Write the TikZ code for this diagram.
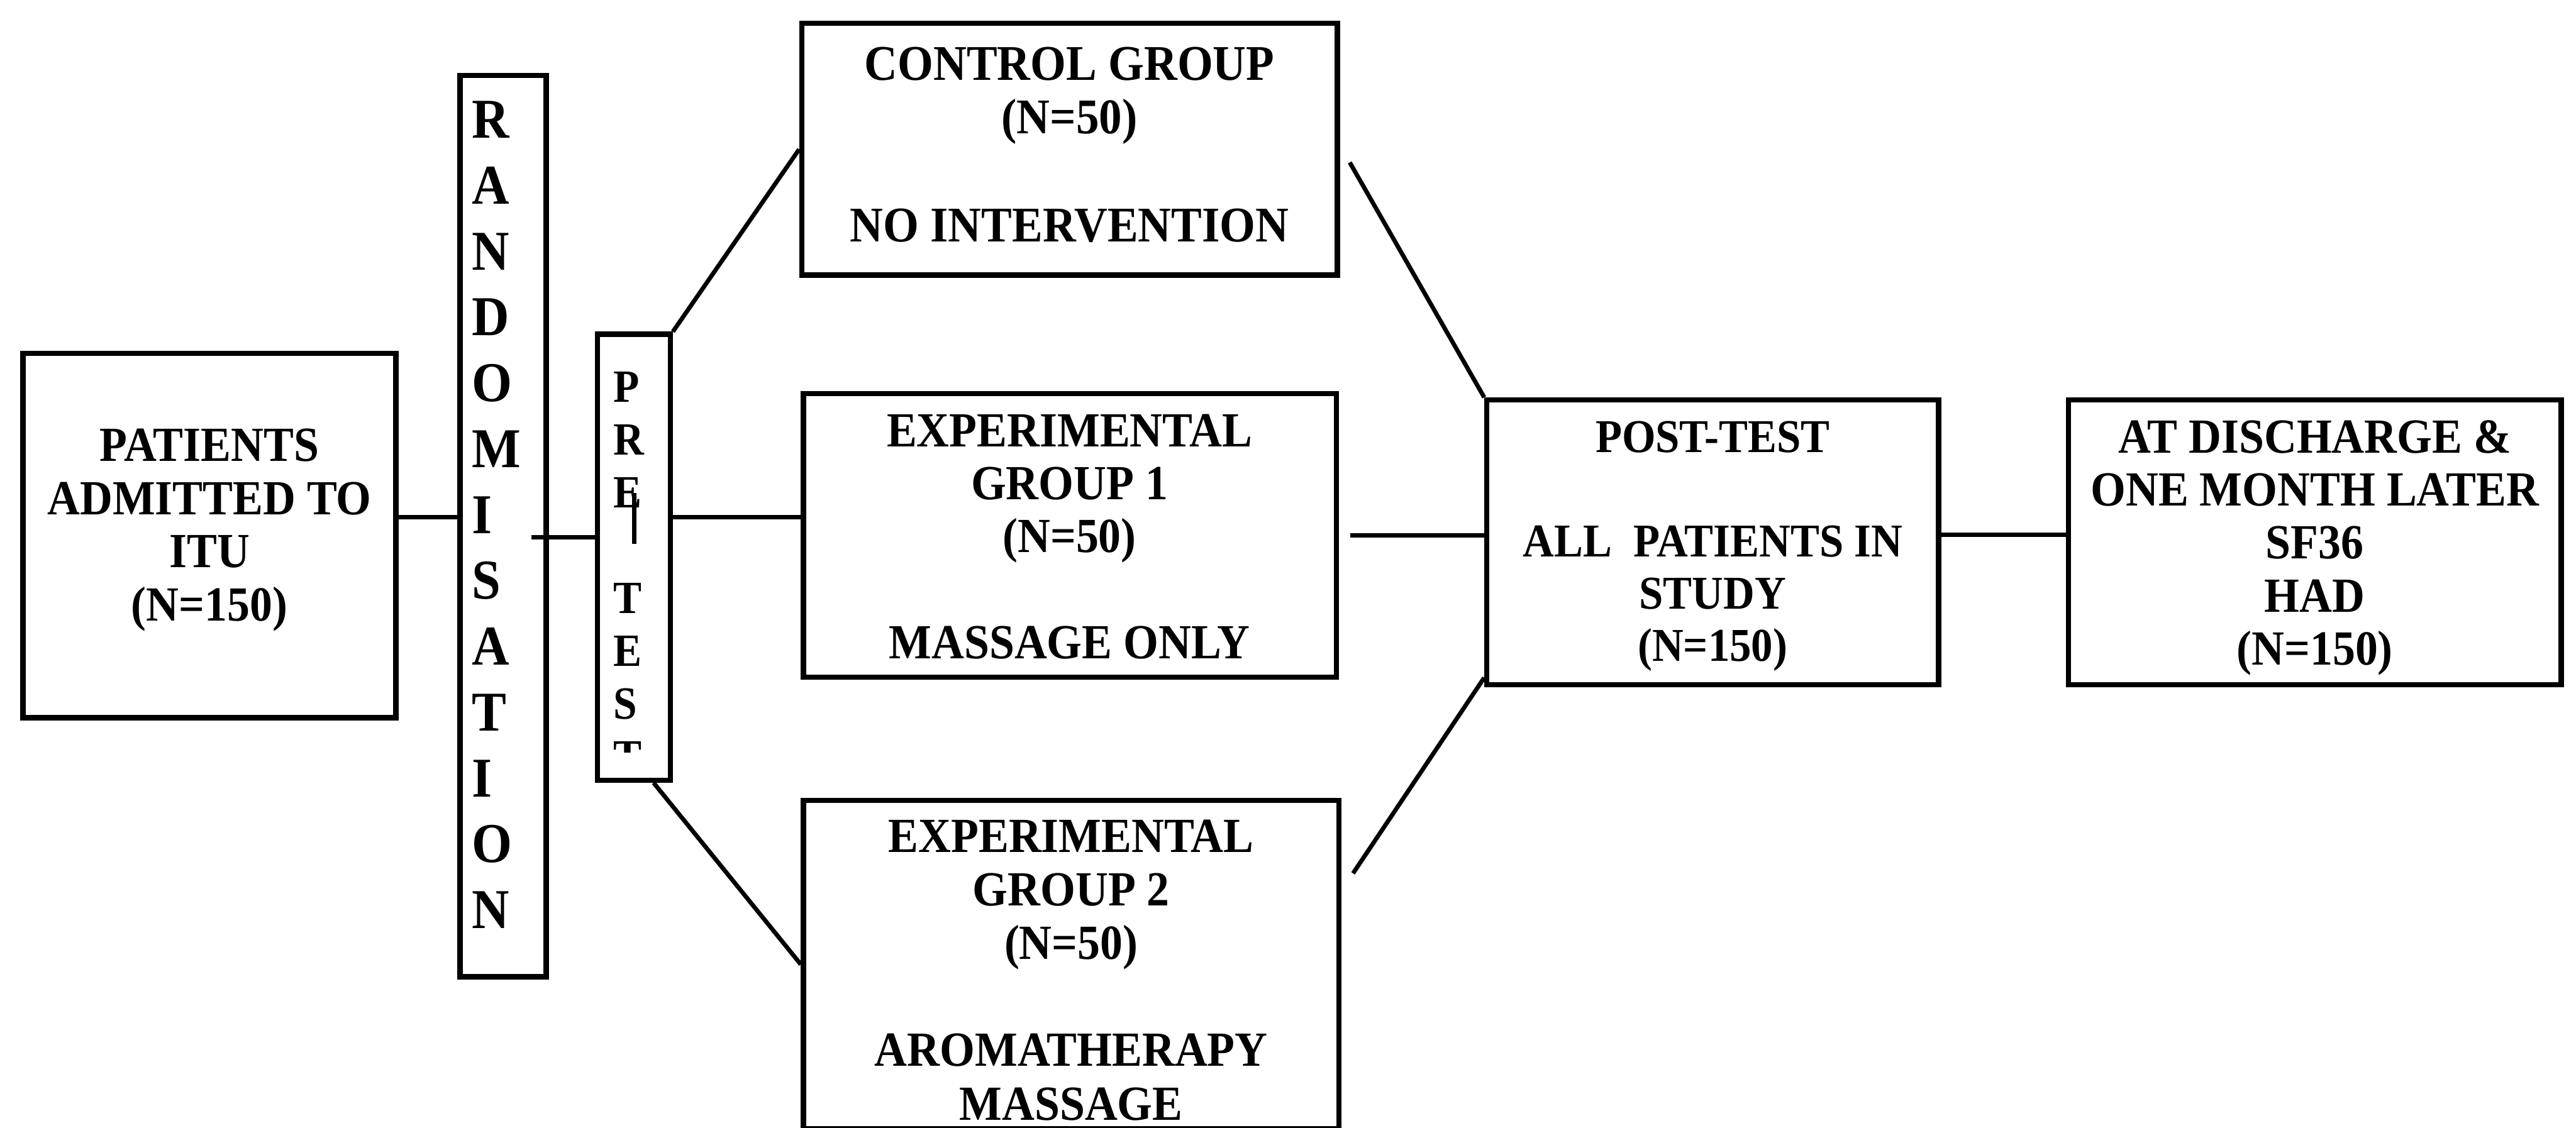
\documentclass[tikz,border=0pt]{standalone}
\usepackage{fontspec}
\setmainfont{Liberation Serif}[FakeStretch=0.92]
\usetikzlibrary{fit,calc}
\begin{document}
\begin{tikzpicture}[x=0.02cm,y=-0.02cm,
  boxline/.style={draw=black, line width=1.8pt, inner sep=0pt},
  conn/.style={draw=black, line width=1.5pt},
  txt/.style 2 args={align=center, inner sep=0pt, font=\fontsize{#1}{#2}\selectfont\bfseries},
  stack/.style 2 args={anchor=north west, align=left, inner sep=0pt, font=\fontsize{#1}{#2}\selectfont\bfseries},
]
\clip (0,0) rectangle (1568,686.6);
\fill[white] (0,0) rectangle (1568,686.6);

% boxes
\node[boxline, fit={(14,215) (241,437)}] (pat) {};
\node[boxline, fit={(280,45.9) (332.5,594.7)}] (rand) {};
\node[boxline, fit={(363.7,203.5) (408,475)}] (pre) {};
\node[boxline, fit={(488,14.3) (814,167.5)}] (ctl) {};
\node[boxline, fit={(489,239.6) (813.4,412.2)}] (e1) {};
\node[boxline, fit={(489,487.3) (815,687)}] (e2) {};
\node[boxline, fit={(905,243.5) (1180,417)}] (post) {};
\node[boxline, fit={(1259,243.5) (1559,417)}] (dis) {};

% texts
\node[txt={17}{18.48}] (patT) at (127.5,322.7) {PATIENTS\\ADMITTED TO\\ITU\\(N=150)};
\node[stack={19.5}{22.82}] (randT) at (287,61.3) {R\\A\\N\\D\\O\\M\\I\\S\\A\\T\\I\\O\\N};
\begin{scope}
  \clip (363.7,203.5) rectangle (408,458);
  \node[stack={16}{18.31}] (preT) at (373,226) {P\\R\\E\\\mbox{}\\T\\E\\S\\T};
\end{scope}
\draw[line width=1.5pt] (386,300) -- (386,331);
\node[txt={17.3}{18.71}] (ctlT) at (651,88.1) {CONTROL GROUP\\(N=50)\\\mbox{}\\NO INTERVENTION};
\node[txt={17}{18.37}] (e1T) at (651,326.7) {EXPERIMENTAL\\GROUP 1\\(N=50)\\\mbox{}\\MASSAGE ONLY};
\node[txt={17}{18.55}] (e2T) at (652,590.6) {EXPERIMENTAL\\GROUP 2\\(N=50)\\\mbox{}\\AROMATHERAPY\\MASSAGE};
\node[txt={16.3}{18.08}] (postT) at (1042.5,332.7) {POST-TEST\\\mbox{}\\ALL\ \ PATIENTS IN\\STUDY\\(N=150)};
\node[txt={17}{18.34}] (disT) at (1409,333.5) {AT DISCHARGE \&\\ONE MONTH LATER\\SF36\\HAD\\(N=150)};

% connectors
\coordinate (h1) at (0,315);
\coordinate (h2) at (0,327);
\coordinate (h3) at (0,325.5);
\draw[conn] (pat.east |- h1) -- (rand.west |- h1);
\draw[conn] ($(rand.east |- h2)+(-10.5,0)$) -- (pre.west |- h2);
\draw[conn] (pre.east |- h1) -- (e1.west |- h1);
\draw[conn] (pre.north east) -- (ctl.west);
\draw[conn] ($(pre.south)+(12,0)$) -- (e2.west);
\draw[conn] ($(ctl.east)+(6,8)$) -- (post.north west);
\draw[conn] ($(e1.east)+(7,0)$) -- (post.west |- e1.east);
\draw[conn] ($(e2.north east)+(7,46)$) -- ($(post.south west)+(0,-6)$);
\draw[conn] (post.east |- h3) -- (dis.west |- h3);
\end{tikzpicture}
\end{document}
